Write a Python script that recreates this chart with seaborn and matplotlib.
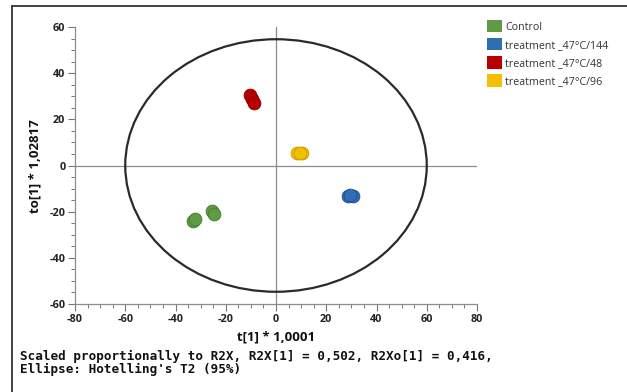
import matplotlib
matplotlib.use("Agg")
import matplotlib.pyplot as plt
import seaborn as sns
import pandas as pd
from matplotlib.patches import Ellipse, Patch
from matplotlib.ticker import MultipleLocator
from matplotlib.lines import Line2D

# ---- data ----
groups = ["Control", "treatment _47°C/144", "treatment _47°C/48", "treatment _47°C/96"]
colors = ["#5f9a45", "#2f6db5", "#b80000", "#f2c000"]
edge_colors = ["#3f7a2a", "#1f4f8f", "#8a0000", "#c99a00"]

control_t = [-33.0, -32.3, -25.3, -24.8]
control_to = [-24.0, -23.0, -19.6, -21.0]
t144_t = [28.8, 30.8, 29.5]
t144_to = [-13.0, -13.4, -12.8]
t48_t = [-10.2, -9.5, -8.8]
t48_to = [30.6, 29.0, 27.0]
t96_t = [8.5, 10.5, 9.6]
t96_to = [5.3, 5.2, 5.6]

xticks = [-80, -60, -40, -20, 0, 20, 40, 60, 80]
yticks = [-60, -40, -20, 0, 20, 40, 60]
ellipse_a = 60.0   # semi-axis along t[1]
ellipse_b = 54.7   # semi-axis along to[1]

df = pd.DataFrame({
    "t": control_t + t144_t + t48_t + t96_t,
    "to": control_to + t144_to + t48_to + t96_to,
    "group": ([groups[0]] * len(control_t) + [groups[1]] * len(t144_t)
              + [groups[2]] * len(t48_t) + [groups[3]] * len(t96_t)),
})

sns.set_style("white")
plt.rcParams["font.family"] = ["Open Sans", "DejaVu Sans"]
plt.rcParams["axes.unicode_minus"] = False

W, H = 627, 392
fig = plt.figure(figsize=(W / 100, H / 100), dpi=100)
ax = fig.add_axes([75 / W, 1 - 304 / H, 402 / W, 277 / H])

# zero lines and ellipse
ax.axhline(0, color="#8c8c8c", lw=0.9, zorder=1)
ax.axvline(0, color="#8c8c8c", lw=0.9, zorder=1)
ax.add_patch(Ellipse((0, 0), 2 * ellipse_a, 2 * ellipse_b, fill=False,
                     edgecolor="#2a2a2a", lw=1.6, zorder=2))

for g, c, ec in zip(groups, colors, edge_colors):
    sub = df[df["group"] == g]
    sns.scatterplot(data=sub, x="t", y="to", ax=ax, color=c, edgecolor=ec,
                    linewidth=0.6, s=85, legend=False, zorder=3)

ax.set_xlim(-80, 80)
ax.set_ylim(-60, 60)
ax.set_xticks(xticks)
ax.set_yticks(yticks)
ax.xaxis.set_minor_locator(MultipleLocator(5))
ax.yaxis.set_minor_locator(MultipleLocator(5))
ax.tick_params(which="major", direction="out", length=5, width=0.8,
               color="#777777", labelsize=7.8, pad=2, bottom=True, left=True)
ax.tick_params(which="minor", direction="out", length=3, width=0.7,
               color="#777777", bottom=True, left=True)
for lab in ax.get_xticklabels() + ax.get_yticklabels():
    lab.set_fontweight("bold")
    lab.set_color("#222222")

for s in ["top", "right"]:
    ax.spines[s].set_visible(False)
for s in ["left", "bottom"]:
    ax.spines[s].set_color("#8c8c8c")
    ax.spines[s].set_linewidth(0.9)

ax.set_xlabel("")
ax.set_ylabel("")
fig.text(276 / W, 1 - 337 / H, "t[1] * 1,0001", ha="center", va="center",
         fontsize=9.5, fontweight="bold", color="#111111")
fig.text(35 / W, 1 - 166 / H, "to[1] * 1,02817", ha="center", va="center",
         rotation=90, fontsize=9.5, fontweight="bold", color="#111111")

# legend
handles = [Patch(facecolor=c, edgecolor="none") for c in colors]
fig.legend(handles, groups, loc="upper left", bbox_to_anchor=(487 / W, 1 - 20 / H),
           frameon=False, fontsize=7.7, handlelength=1.4, handleheight=1.4,
           handletextpad=0.3, labelspacing=0.5, borderaxespad=0, borderpad=0,
           labelcolor="#333333")

# footer
fig.text(20 / W, 1 - 356 / H,
         "Scaled proportionally to R2X, R2X[1] = 0,502, R2Xo[1] = 0,416,",
         family="DejaVu Sans Mono", fontweight="bold", fontsize=9.1,
         ha="left", va="center", color="#111111")
fig.text(20 / W, 1 - 369 / H, "Ellipse: Hotelling's T2 (95%)",
         family="DejaVu Sans Mono", fontweight="bold", fontsize=9.1,
         ha="left", va="center", color="#111111")

# outer frame (top and left edges visible)
fig.add_artist(Line2D([12 / W, 1.0], [1 - 6 / H, 1 - 6 / H], transform=fig.transFigure,
                      color="#222222", lw=1.2))
fig.add_artist(Line2D([12 / W, 12 / W], [1 - 6 / H, 0.0], transform=fig.transFigure,
                      color="#222222", lw=1.2))

fig.savefig("out.png", dpi=100)
